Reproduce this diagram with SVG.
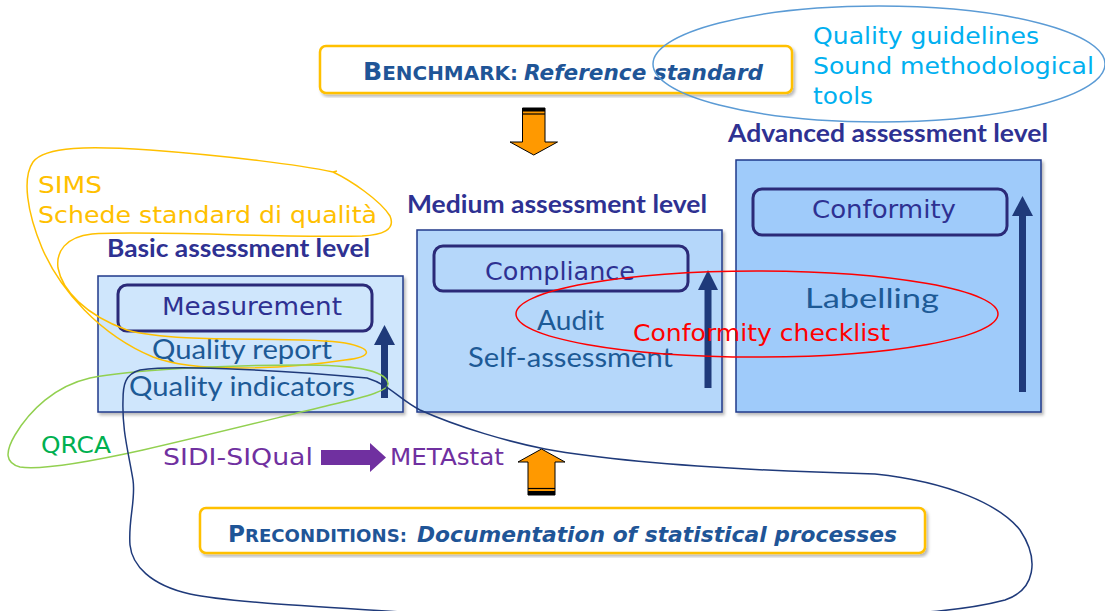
<svg xmlns="http://www.w3.org/2000/svg" width="1105" height="611" viewBox="0 0 1105 611">
  <defs>
    <filter id="shadow" x="-5%" y="-5%" width="110%" height="115%">
      <feDropShadow dx="2" dy="2.5" stdDeviation="1.5" flood-color="#000" flood-opacity="0.28"/>
    </filter>
    <style>
      .level { stroke: #1F3A8A; stroke-width: 1.5; }
      .inner { fill: none; stroke: #2B2A78; stroke-width: 3; }
      .title { font-family: Lato, "Liberation Sans", sans-serif; font-weight: bold; font-size: 24px; fill: #2E3192; }
      .keyword { font-family: "DejaVu Sans", Verdana, sans-serif; font-size: 24px; fill: #2E3192; text-anchor: middle; }
      .item { font-family: Lato, "Liberation Sans", sans-serif; font-size: 26px; fill: #1D5A96; }
      .note { font-family: "DejaVu Sans", Verdana, sans-serif; font-size: 23px; }
      .banner { fill: #fff; stroke: #FFC000; stroke-width: 2.5; }
      .bannertext { font-family: "DejaVu Sans", Verdana, sans-serif; font-weight: bold; fill: #1F5597; }
      .uparrow { fill: #1F3A7A; }
      .orange { fill: #FF9900; stroke: #000; stroke-width: 1; }
      .loop { fill: none; stroke-width: 1.5; }
    </style>
  </defs>

  <rect width="1105" height="611" fill="#fff"/>

  <!-- Benchmark banner -->
  <g id="benchmark">
    <rect class="banner" x="320" y="46" width="472" height="47" rx="6" filter="url(#shadow)"/>
    <text class="bannertext" x="363" y="80" textLength="155" lengthAdjust="spacingAndGlyphs"><tspan font-size="24">B</tspan><tspan font-size="19">ENCHMARK:</tspan></text>
    <text class="bannertext" x="524" y="80" font-size="21" font-style="italic" textLength="239" lengthAdjust="spacingAndGlyphs">Reference standard</text>
  </g>

  <!-- Down arrow from benchmark -->
  <g id="arrow-down">
    <polygon class="orange" points="522.5,108 545,108 545,142 557.5,142 533.75,155 510,142 522.5,142"/>
    <rect x="522.5" y="108" width="22.5" height="3.5" fill="#000"/>
    <line x1="522.5" y1="114" x2="545" y2="114" stroke="#000" stroke-width="1.2"/>
  </g>

  <!-- Basic level -->
  <g id="basic">
    <text class="title" x="107" y="257" textLength="263" lengthAdjust="spacingAndGlyphs">Basic assessment level</text>
    <rect class="level" x="98" y="276" width="305" height="136" fill="#CFE6FC" filter="url(#shadow)"/>
    <rect class="inner" x="118" y="285" width="254" height="46" rx="9"/>
    <text class="keyword" x="252" y="315" textLength="180" lengthAdjust="spacingAndGlyphs">Measurement</text>
    <text class="item" x="152" y="359" textLength="180" lengthAdjust="spacingAndGlyphs">Quality report</text>
    <text class="item" x="129" y="396" textLength="226" lengthAdjust="spacingAndGlyphs">Quality indicators</text>
    <polygon class="uparrow" points="381,398 388,398 388,345 395,345 384.5,325 374,345 381,345"/>
  </g>

  <!-- Medium level -->
  <g id="medium">
    <text class="title" x="407" y="213" textLength="300" lengthAdjust="spacingAndGlyphs">Medium assessment level</text>
    <rect class="level" x="417" y="230" width="305" height="182" fill="#B5D7FA" filter="url(#shadow)"/>
    <rect class="inner" x="434" y="246" width="254" height="45" rx="9"/>
    <text class="keyword" x="560" y="280" textLength="150" lengthAdjust="spacingAndGlyphs">Compliance</text>
    <text class="item" x="537" y="330" textLength="67" lengthAdjust="spacingAndGlyphs">Audit</text>
    <text class="item" x="468" y="367" textLength="205" lengthAdjust="spacingAndGlyphs">Self-assessment</text>
    <polygon class="uparrow" points="704.5,388 711.5,388 711.5,290 718,290 708,270 698,290 704.5,290"/>
  </g>

  <!-- Advanced level -->
  <g id="advanced">
    <text class="title" x="728" y="142" textLength="320" lengthAdjust="spacingAndGlyphs">Advanced assessment level</text>
    <rect class="level" x="736" y="160" width="305" height="252" fill="#9FCBFA" filter="url(#shadow)"/>
    <rect class="inner" x="753" y="189" width="254" height="46" rx="9"/>
    <text class="keyword" x="884" y="218" textLength="144" lengthAdjust="spacingAndGlyphs">Conformity</text>
    <text class="item" x="805" y="308" font-size="29" textLength="134" lengthAdjust="spacingAndGlyphs">Labelling</text>
    <polygon class="uparrow" points="1019,392 1026,392 1026,216 1033,216 1022.5,196 1012,216 1019,216"/>
  </g>

  <!-- Tools from SIDI-SIQual to METAstat -->
  <g id="tools">
    <text class="note" x="163" y="465" font-size="24" fill="#7030A0" textLength="150" lengthAdjust="spacingAndGlyphs">SIDI-SIQual</text>
    <polygon points="321,450 370,450 370,443 386,457.5 370,472 370,465 321,465" fill="#7030A0"/>
    <text class="note" x="390" y="465" font-size="24" fill="#7030A0" textLength="114" lengthAdjust="spacingAndGlyphs">METAstat</text>
  </g>

  <!-- Up arrow from preconditions -->
  <g id="arrow-up">
    <polygon class="orange" points="528,495 555,495 555,462 565,462 541.5,449 518,462 528,462"/>
    <line x1="528" y1="488.5" x2="555" y2="488.5" stroke="#000" stroke-width="1.2"/>
    <rect x="528" y="491" width="27" height="4" fill="#000"/>
  </g>

  <!-- Preconditions banner -->
  <g id="preconditions">
    <rect class="banner" x="200" y="508" width="725" height="45" rx="6" filter="url(#shadow)"/>
    <text class="bannertext" x="228" y="542" textLength="179" lengthAdjust="spacingAndGlyphs"><tspan font-size="23">P</tspan><tspan font-size="18">RECONDITIONS:</tspan></text>
    <text class="bannertext" x="417" y="542" font-size="21" font-style="italic" textLength="480" lengthAdjust="spacingAndGlyphs">Documentation of statistical processes</text>
  </g>

  <!-- Annotations: hand-drawn loops and their labels -->
  <g id="annotations">
    <!-- SIMS loop -->
    <g id="sims">
      <text class="note" x="38" y="193" fill="#FFC000" textLength="64" lengthAdjust="spacingAndGlyphs">SIMS</text>
      <text class="note" x="38" y="223" fill="#FFC000" textLength="339" lengthAdjust="spacingAndGlyphs">Schede standard di qualità</text>
      <path class="loop" stroke="#FFC000" d="M333,172 C350,180 380,200 390,216 C396,230 382,235 362,236 C280,238 140,230 92,234 C65,237 56,252 58,268 C62,290 85,315 127,330 C180,345 300,335 345,343 C375,349 372,357 345,360 C300,367 200,375 153,357 C100,335 60,290 42,248 C27,212 22,178 33,162 C45,146 90,146 150,150 C230,156 300,165 333,172 L337,171"/>
    </g>

    <!-- QRCA loop -->
    <g id="qrca">
      <text class="note" x="41" y="453" font-size="24" fill="#00B050" textLength="70" lengthAdjust="spacingAndGlyphs">QRCA</text>
      <path class="loop" stroke="#92D050" d="M388,383 C385,369 350,365 300,365 C220,365 130,370 90,378 C55,386 30,410 15,435 C5,452 5,463 20,467 C40,470 80,464 143,450 C200,437 260,422 330,405 C370,396 390,390 388,383 Z"/>
    </g>

    <!-- Navy loop around the documentation -->
    <g id="connectors">
      <path class="loop" stroke="#1F3A7A" d="M460,616 C350,608 230,603 190,594 C150,585 132,565 130,545 C128,520 136,500 133,480 C128,450 122,430 123,400 C123,385 125,374 140,370 C180,364 300,372 367,378 C390,385 400,400 420,410 C460,428 510,442 545,449 C640,466 800,472 875,474 C950,482 1000,505 1020,530 C1040,560 1035,590 1005,600 C960,612 900,614 860,616"/>
    </g>

    <!-- Conformity checklist loop -->
    <g id="checklist">
      <ellipse class="loop" cx="757" cy="314" rx="241" ry="43" stroke="#FF0000"/>
      <text class="note" x="633" y="341" font-size="24" fill="#FF0000" textLength="257" lengthAdjust="spacingAndGlyphs">Conformity checklist</text>
    </g>

    <!-- Guidelines loop -->
    <g id="guidelines">
      <ellipse class="loop" cx="879" cy="64" rx="226" ry="58" stroke="#5B9BD5"/>
      <text class="note" x="813" y="44" fill="#00B0F0" textLength="226" lengthAdjust="spacingAndGlyphs">Quality guidelines</text>
      <text class="note" x="813" y="74" fill="#00B0F0" textLength="281" lengthAdjust="spacingAndGlyphs">Sound methodological</text>
      <text class="note" x="813" y="104" fill="#00B0F0" textLength="60" lengthAdjust="spacingAndGlyphs">tools</text>
    </g>
  </g>
</svg>
